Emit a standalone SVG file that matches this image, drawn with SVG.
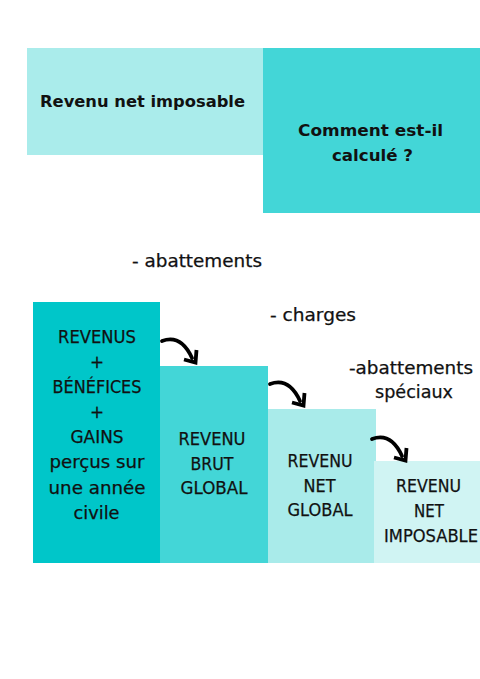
<svg xmlns="http://www.w3.org/2000/svg" width="480" height="679" viewBox="0 0 480 679">
<defs>
<g id="curved">
<path d="M0,1 Q19,-6 30,18" fill="none" stroke="#000" stroke-width="3.8" stroke-linecap="round"/>
<path d="M34.5,10 L33.5,22.5 L22,19.5" fill="none" stroke="#000" stroke-width="3.8" stroke-linejoin="miter" stroke-linecap="butt"/>
</g>
<style>
text{font-family:"DejaVu Sans","Noto Sans",sans-serif;fill:#111;stroke:#111;stroke-width:0.25;text-anchor:middle;font-size:16.8px}
.b{font-weight:bold;font-size:16px;stroke-width:0}
.l{font-size:17.5px}
</style>
</defs>
<rect width="480" height="679" fill="#fff"/>
<g id="title">
<rect x="27" y="48" width="236" height="107" fill="#aaeceb"/>
<text class="b" x="142.5" y="107" textLength="205" lengthAdjust="spacingAndGlyphs">Revenu net imposable</text>
</g>
<g id="question">
<rect x="263" y="48" width="217" height="165" fill="#43d6d7"/>
<text class="b" x="370.5" y="136" textLength="145" lengthAdjust="spacingAndGlyphs">Comment est-il</text>
<text class="b" x="372.5" y="161" textLength="81" lengthAdjust="spacingAndGlyphs">calculé ?</text>
</g>
<g id="box1">
<rect x="33" y="302" width="127" height="261" fill="#00c6c9"/>
<text x="97" y="343" textLength="78" lengthAdjust="spacingAndGlyphs">REVENUS</text>
<text x="97" y="368">+</text>
<text x="97" y="393" textLength="89" lengthAdjust="spacingAndGlyphs">BÉNÉFICES</text>
<text x="97" y="418">+</text>
<text x="97" y="443" textLength="53" lengthAdjust="spacingAndGlyphs">GAINS</text>
<text x="97" y="468" textLength="95" lengthAdjust="spacingAndGlyphs">perçus sur</text>
<text x="97" y="494" textLength="97" lengthAdjust="spacingAndGlyphs">une année</text>
<text x="96.5" y="519" textLength="46" lengthAdjust="spacingAndGlyphs">civile</text>
</g>
<g id="box2">
<rect x="160" y="366" width="108" height="197" fill="#43d6d7"/>
<text x="212" y="445" textLength="67" lengthAdjust="spacingAndGlyphs">REVENU</text>
<text x="212" y="470" textLength="43" lengthAdjust="spacingAndGlyphs">BRUT</text>
<text x="214" y="494" textLength="67" lengthAdjust="spacingAndGlyphs">GLOBAL</text>
</g>
<g id="box3">
<rect x="268" y="409" width="108" height="154" fill="#a9ebea"/>
<text x="320" y="467" textLength="65" lengthAdjust="spacingAndGlyphs">REVENU</text>
<text x="319.5" y="492" textLength="32" lengthAdjust="spacingAndGlyphs">NET</text>
<text x="320" y="516" textLength="65" lengthAdjust="spacingAndGlyphs">GLOBAL</text>
</g>
<g id="box4">
<rect x="374" y="461" width="106" height="102" fill="#d0f4f3"/>
<text x="428.5" y="492" textLength="65" lengthAdjust="spacingAndGlyphs">REVENU</text>
<text x="429" y="517" textLength="30" lengthAdjust="spacingAndGlyphs">NET</text>
<text x="431" y="542" textLength="94" lengthAdjust="spacingAndGlyphs">IMPOSABLE</text>
</g>
<g id="labels">
<text class="l" x="197" y="267" textLength="130" lengthAdjust="spacingAndGlyphs">- abattements</text>
<text class="l" x="313" y="321" textLength="86" lengthAdjust="spacingAndGlyphs">- charges</text>
<text class="l" x="411" y="374" textLength="124" lengthAdjust="spacingAndGlyphs">-abattements</text>
<text class="l" x="414" y="398" textLength="78" lengthAdjust="spacingAndGlyphs">spéciaux</text>
</g>
<g id="connectors">
<use href="#curved" x="162" y="340"/>
<use href="#curved" x="270" y="383"/>
<use href="#curved" x="372" y="438"/>
</g>
</svg>
